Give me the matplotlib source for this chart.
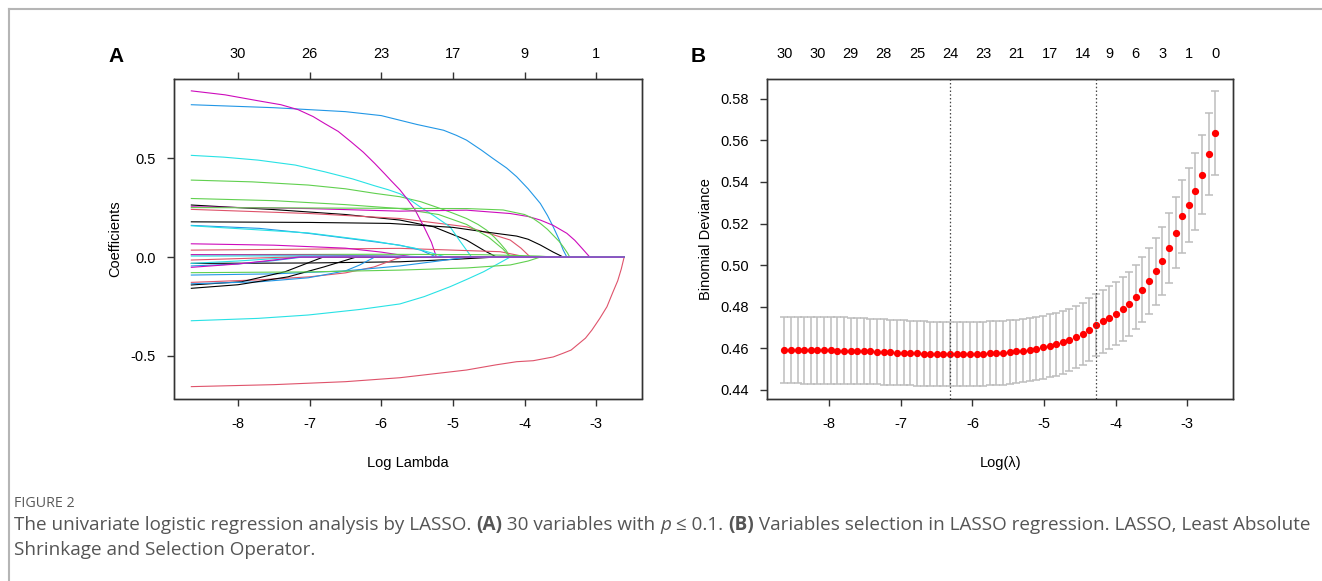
import matplotlib
matplotlib.use("Agg")
import matplotlib.pyplot as plt
from matplotlib.lines import Line2D

plt.rcParams['font.family'] = ['Liberation Sans', 'DejaVu Sans']
plt.rcParams['axes.unicode_minus'] = False

# ---- panel A: coefficient paths (log lambda, coefficient) ----
# order follows the variable index, so the R palette cycles black/red/green/blue/cyan/magenta
coef_x = [
    [-8.65, -7.5, -6.5, -5.74, -5.27, -4.81, -4.55, -4.39],
    [-8.65, -7.0, -5.74, -4.81, -4.5, -4.2, -4.05, -3.92],
    [-8.65, -7.8, -7.02, -6.5, -6.09, -5.74, -5.45, -5.18, -5.0, -4.81, -4.65, -4.53, -4.42, -4.34, -4.26, -4.2],
    [-8.65, -7.5, -6.5, -6.0, -5.5, -5.13, -4.95, -4.81, -4.6, -4.44, -4.25, -4.11, -3.95, -3.78, -3.68, -3.6, -3.52, -3.46, -3.41],
    [-8.65, -8.2, -7.72, -7.2, -6.79, -6.4, -6.09, -5.9, -5.74, -5.6, -5.46, -5.25, -5.04, -4.9, -4.74],
    [-8.65, -8.18, -7.72, -7.4, -7.16, -6.95, -6.79, -6.6, -6.42, -6.25, -6.09, -5.95, -5.86, -5.74, -5.62, -5.53, -5.4, -5.3, -5.23],
    [-8.65, -7.0, -5.88, -5.0, -4.57, -4.11, -3.95, -3.78, -3.6, -3.46],
    [-8.65, -7.0, -5.74, -4.34, -3.97],
    [-8.65, -7.5, -6.5, -5.74, -5.2, -4.81, -4.5, -4.3, -4.2],
    [-8.65, -7.7, -7.02, -6.09, -5.74, -5.45, -5.23],
    [-8.65, -7.02, -6.09, -5.54, -5.1],
    [-8.65, -7.0, -5.74, -4.81, -4.2, -3.95, -3.78, -3.6, -3.41, -3.3, -3.2, -3.09],
    [-8.65, -7.0, -5.74, -5.0, -4.39],
    [-8.65, -7.7, -7.0, -6.5, -6.1, -5.8, -5.7],
    [-8.65, -7.0, -5.74, -4.8, -4.3, -4.0, -3.88, -3.78, -3.68, -3.6, -3.52, -3.46, -3.4, -3.37],
    [-8.65, -7.5, -6.5, -5.74, -5.2, -4.8],
    [-8.65, -8.0, -7.5, -7.2],
    [-8.65, -7.5, -6.5, -6.0, -5.55],
    [-8.65, -7.95, -7.34, -6.81],
    [-8.65, -7.5, -6.5, -5.74, -4.81, -4.4, -4.11, -3.88, -3.6, -3.46, -3.35, -3.25, -3.15, -3.06, -2.95, -2.85, -2.77, -2.7, -2.65, -2.61],
    [-8.65, -6.0, -4.6, -3.8, -3.6],
    [-8.65, -7.7, -7.02, -6.5, -6.3, -6.09],
    [-8.65, -7.72, -7.02, -6.3, -5.74, -5.4, -5.04, -4.8, -4.57, -4.4, -4.2],
    [-8.65, -7.0, -6.0, -5.2],
    [-8.65, -8.0, -7.3, -6.8, -6.35],
    [-8.65, -8.0, -7.3],
    [-8.65, -7.0, -5.74, -4.8, -4.2, -3.95, -3.78],
    [-8.65, -8.0, -7.5, -7.1],
    [-8.65, -7.0, -5.8, -4.9],
    [-8.65, -8.0, -7.5, -7.15],
]
coef_y = [
    [0.263, 0.24, 0.215, 0.187, 0.153, 0.086, 0.03, 0],
    [0.241, 0.22, 0.195, 0.153, 0.12, 0.086, 0.045, 0],
    [0.389, 0.38, 0.364, 0.345, 0.322, 0.305, 0.28, 0.246, 0.222, 0.195, 0.165, 0.136, 0.1, 0.069, 0.035, 0],
    [0.77, 0.755, 0.735, 0.715, 0.67, 0.641, 0.615, 0.591, 0.54, 0.498, 0.45, 0.406, 0.345, 0.271, 0.21, 0.153, 0.09, 0.035, 0],
    [0.514, 0.505, 0.49, 0.465, 0.431, 0.395, 0.36, 0.34, 0.32, 0.29, 0.254, 0.205, 0.153, 0.08, 0],
    [0.84, 0.82, 0.79, 0.77, 0.745, 0.71, 0.675, 0.635, 0.582, 0.53, 0.473, 0.42, 0.385, 0.34, 0.285, 0.24, 0.15, 0.075, 0],
    [0.178, 0.175, 0.17, 0.15, 0.128, 0.106, 0.09, 0.061, 0.025, 0],
    [0.035, 0.04, 0.044, 0.027, 0],
    [0.296, 0.285, 0.265, 0.245, 0.215, 0.165, 0.1, 0.04, 0],
    [0.16, 0.145, 0.12, 0.077, 0.06, 0.035, 0],
    [0.158, 0.122, 0.08, 0.046, 0],
    [0.254, 0.245, 0.232, 0.237, 0.22, 0.205, 0.187, 0.16, 0.12, 0.085, 0.045, 0],
    [-0.032, -0.03, -0.024, -0.012, 0],
    [-0.128, -0.115, -0.1, -0.08, -0.05, -0.01, 0],
    [0.25, 0.248, 0.246, 0.245, 0.238, 0.215, 0.195, 0.17, 0.14, 0.11, 0.08, 0.052, 0.02, 0],
    [-0.091, -0.085, -0.07, -0.045, -0.02, 0],
    [-0.032, -0.02, -0.008, 0],
    [0.067, 0.06, 0.045, 0.025, 0],
    [-0.141, -0.125, -0.074, 0],
    [-0.655, -0.645, -0.63, -0.61, -0.571, -0.545, -0.529, -0.524, -0.505, -0.486, -0.47, -0.44, -0.41, -0.369, -0.31, -0.251, -0.18, -0.12, -0.06, 0],
    [0.012, 0.014, 0.012, 0.005, 0],
    [-0.135, -0.125, -0.105, -0.07, -0.04, 0],
    [-0.322, -0.31, -0.293, -0.265, -0.237, -0.2, -0.15, -0.112, -0.074, -0.04, 0],
    [0.012, 0.01, 0.006, 0],
    [-0.158, -0.14, -0.1, -0.05, 0],
    [-0.015, -0.008, 0],
    [-0.079, -0.075, -0.066, -0.055, -0.04, -0.02, 0],
    [-0.045, -0.035, -0.018, 0],
    [0.005, 0.006, 0.004, 0],
    [-0.052, -0.035, -0.015, 0],
]
path_end = -2.61
df_ticks_a = [-8, -7, -6, -5, -4, -3]
df_labels_a = ['30', '26', '23', '17', '9', '1']

# ---- panel B: cross-validation curve ----
log_lambda = [
    -8.627, -8.534, -8.442, -8.349, -8.257, -8.164, -8.071, -7.979, -7.886, -7.794,
    -7.701, -7.608, -7.516, -7.423, -7.331, -7.238, -7.145, -7.053, -6.960, -6.868,
    -6.775, -6.682, -6.590, -6.497, -6.405, -6.312, -6.219, -6.127, -6.034, -5.942,
    -5.849, -5.756, -5.664, -5.571, -5.479, -5.386, -5.293, -5.201, -5.108, -5.016,
    -4.923, -4.830, -4.738, -4.645, -4.553, -4.460, -4.367, -4.275, -4.182, -4.090,
    -3.997, -3.904, -3.812, -3.719, -3.627, -3.534, -3.441, -3.349, -3.256, -3.164,
    -3.071, -2.978, -2.886, -2.793, -2.701, -2.608,
]
cv_mean = [
    0.4592, 0.4592, 0.4592, 0.4591, 0.4591, 0.4591, 0.4590, 0.4590, 0.4589, 0.4589,
    0.4588, 0.4587, 0.4586, 0.4585, 0.4584, 0.4583, 0.4582, 0.4580, 0.4579, 0.4578,
    0.4576, 0.4575, 0.4574, 0.4573, 0.4573, 0.4572, 0.4572, 0.4572, 0.4573, 0.4573,
    0.4574, 0.4576, 0.4577, 0.4579, 0.4582, 0.4585, 0.4589, 0.4594, 0.4599, 0.4605,
    0.4612, 0.4620, 0.4629, 0.4640, 0.4654, 0.4670, 0.4690, 0.4711, 0.4730, 0.4747,
    0.4766, 0.4789, 0.4815, 0.4847, 0.4882, 0.4924, 0.4970, 0.5020, 0.5083, 0.5157,
    0.5234, 0.5291, 0.5355, 0.5434, 0.5533, 0.5635,
]
cv_se = [
    0.0160, 0.0160, 0.0160, 0.0160, 0.0160, 0.0160, 0.0160, 0.0160, 0.0160, 0.0160,
    0.0159, 0.0159, 0.0158, 0.0158, 0.0157, 0.0157, 0.0156, 0.0156, 0.0156, 0.0155,
    0.0155, 0.0155, 0.0155, 0.0155, 0.0155, 0.0155, 0.0155, 0.0155, 0.0155, 0.0155,
    0.0155, 0.0154, 0.0154, 0.0154, 0.0153, 0.0153, 0.0153, 0.0152, 0.0152, 0.0152,
    0.0151, 0.0151, 0.0150, 0.0150, 0.0150, 0.0150, 0.0150, 0.0150, 0.0150, 0.0151,
    0.0152, 0.0153, 0.0154, 0.0155, 0.0157, 0.0157, 0.0160, 0.0165, 0.0168, 0.0170,
    0.0174, 0.0178, 0.0184, 0.0190, 0.0198, 0.0202,
]
nz_index = [0, 5, 10, 15, 20, 25, 30, 35, 40, 45, 49, 53, 57, 61, 65]
nz_labels = ['30', '30', '29', '28', '25', '24', '23', '21', '17', '14', '9', '6', '3', '1', '0']
lambda_min = -6.312
lambda_1se = -4.275

r_palette = ['black', '#DF536B', '#61D04F', '#2297E6', '#28E2E5', '#CD0BBC']
box_col = '#333333'
fs = 10.5

W, H = 1322, 581
fig = plt.figure(figsize=(W / 100, H / 100), dpi=100)


def style_box(ax):
    for s in ax.spines.values():
        s.set_color(box_col)
        s.set_linewidth(1.0)
    ax.tick_params(direction='out', length=5, width=1.0, color=box_col,
                   labelsize=fs, pad=8)


# panel A
axA = fig.add_axes([174 / W, 1 - 398.5 / H, 467.5 / W, 319.5 / H])
for i, (xs, ys) in enumerate(zip(coef_x, coef_y)):
    axA.plot(xs + [path_end], ys + [0], color=r_palette[i % 6], lw=0.8)
axA.set_xlim(-8.892, -2.368)
axA.set_ylim(-0.715, 0.9)
axA.set_xticks([-8, -7, -6, -5, -4, -3])
axA.set_yticks([-0.5, 0.0, 0.5])
axA.set_yticklabels(['-0.5', '0.0', '0.5'])
style_box(axA)
axA.set_xlabel('Log Lambda', fontsize=fs, labelpad=18)
axA.set_ylabel('Coefficients', fontsize=fs, labelpad=6)
topA = axA.twiny()
topA.set_xlim(axA.get_xlim())
topA.set_xticks(df_ticks_a)
topA.set_xticklabels(df_labels_a)
style_box(topA)
topA.tick_params(pad=8)

# panel B
axB = fig.add_axes([767 / W, 1 - 398.5 / H, 466.3 / W, 319.5 / H])
axB.errorbar(log_lambda, cv_mean, yerr=cv_se, fmt='none', ecolor='#bdbdbd',
             elinewidth=1.1, capsize=2.8, capthick=1.1)
axB.plot(log_lambda, cv_mean, 'o', color='red', ms=4.2, mec='red')
axB.axvline(lambda_min, color='#444444', lw=0.9, ls=(0, (1.2, 1.8)))
axB.axvline(lambda_1se, color='#444444', lw=0.9, ls=(0, (1.2, 1.8)))
axB.set_xlim(-8.868, -2.357)
axB.set_ylim(0.4359, 0.5895)
axB.set_xticks([-8, -7, -6, -5, -4, -3])
axB.set_yticks([0.44, 0.46, 0.48, 0.50, 0.52, 0.54, 0.56, 0.58])
axB.set_yticklabels(['0.44', '0.46', '0.48', '0.50', '0.52', '0.54', '0.56', '0.58'])
style_box(axB)
axB.set_xlabel('Log(λ)', fontsize=fs, labelpad=18)
axB.set_ylabel('Binomial Deviance', fontsize=fs, labelpad=5)
topB = axB.twiny()
topB.set_xlim(axB.get_xlim())
topB.set_xticks([log_lambda[k] for k in nz_index])
topB.set_xticklabels(nz_labels)
style_box(topB)
topB.tick_params(length=0, pad=13)

fig.text(116 / W, 1 - 57 / H, 'A', fontsize=15, fontweight='bold', ha='center', va='center')
fig.text(698 / W, 1 - 57 / H, 'B', fontsize=15, fontweight='bold', ha='center', va='center')

# page frame
fig.add_artist(Line2D([9 / W, 9 / W], [0, 1 - 9 / H], transform=fig.transFigure, color='#b5b5b5', lw=1.5))
fig.add_artist(Line2D([9 / W, 1], [1 - 9 / H, 1 - 9 / H], transform=fig.transFigure, color='#b5b5b5', lw=1.5))

# caption
cap_font = ['Open Sans', 'DejaVu Sans']
cap_col = '#555555'
fig.text(14 / W, 1 - 507 / H, 'FIGURE 2', fontsize=10.3, color='#5a5a5a', family=cap_font)
renderer = fig.canvas.get_renderer()


def put_runs(x, y, runs):
    for s, kw in runs:
        t = fig.text(x, y, s, fontsize=13.6, color=cap_col, family=cap_font, va='baseline', **kw)
        x += t.get_window_extent(renderer).width / fig.bbox.width


put_runs(14 / W, 1 - 530 / H, [
    ('The univariate logistic regression analysis by LASSO. ', {}),
    ('(A)', {'fontweight': 'bold'}),
    (' 30 variables with ', {}),
    ('p', {'style': 'italic'}),
    (' ≤ 0.1. ', {}),
    ('(B)', {'fontweight': 'bold'}),
    (' Variables selection in LASSO regression. LASSO, Least Absolute', {}),
])
put_runs(14 / W, 1 - 555 / H, [('Shrinkage and Selection Operator.', {})])

fig.savefig('out.png', dpi=100)
